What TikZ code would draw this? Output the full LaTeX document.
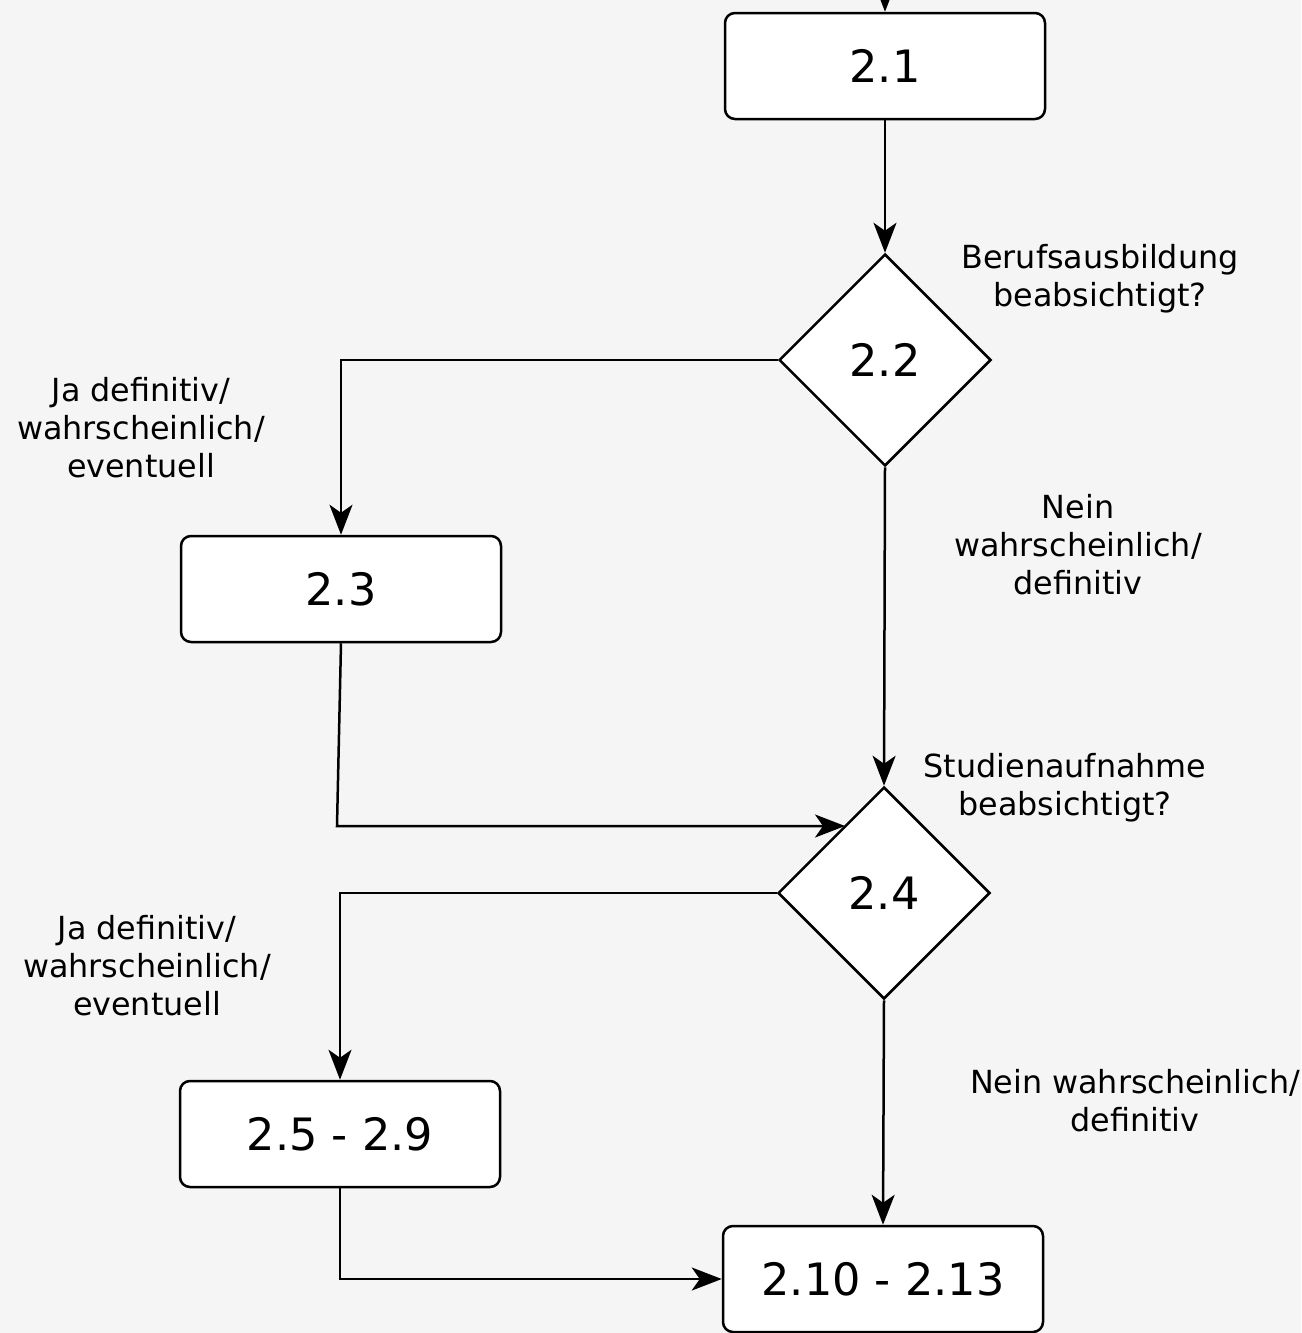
\documentclass[tikz,border=0pt]{standalone}
\usepackage{fontspec}
\setmainfont{DejaVu Sans}
\usetikzlibrary{shapes.geometric,arrows.meta}
\definecolor{bgcol}{HTML}{F5F5F5}
\tikzset{every picture/.style={line width=1.25pt}}
\tikzset{
  stepbox/.style={draw,fill=white,rounded corners=5pt,minimum width=160pt,minimum height=53pt,inner sep=0pt,font=\fontsize{22.3}{26}\selectfont},
  decision/.style={draw,fill=white,diamond,aspect=1,minimum width=106pt,minimum height=106pt,inner sep=0pt,font=\fontsize{22.3}{26}\selectfont},
  flowlabel/.style={align=center,font=\fontsize{15.9}{19}\selectfont},
  flow/.style={-{Stealth[length=15pt,width=11.5pt,inset=4pt]}}
}
\begin{document}
\begin{tikzpicture}[x=0.5pt,y=0.5pt,yscale=-1,xscale=1]
		%Background
		\fill[bgcol] (0,0) rectangle (1301,1333);
		\useasboundingbox (0,0) rectangle (1301,1333);
		
		%Shape: Rounded Rect
		\node[stepbox] (b21) at (885,66) {2.1};
		%Shape: Diamond
		\node[decision] (d22) at (885,360) {2.2};
		%Shape: Rounded Rect
		\node[stepbox] (b23) at (341,589) {2.3};
		%Shape: Diamond
		\node[decision] (d24) at (884,893) {2.4};
		%Shape: Rounded Rect
		\node[stepbox] (b25) at (340,1134) {2.5 - 2.9};
		%Shape: Rounded Rect
		\node[stepbox] (b210) at (883,1279) {2.10 - 2.13};
		
		\coordinate (top) at (885,-2);
		\coordinate (bend23) at (337,826);
		\coordinate (in24) at (845,826);
		
		%Straight Lines
		\draw[flow] (top) -- (b21.north);
		\draw[flow] (b21.south) -- (d22.north);
		\draw[flow] (d22.west) -| (b23.north);
		\draw[flow] (d22.south) -- (d24.north);
		\draw[flow] (b23.south) -- (bend23) -- (in24);
		\draw[flow] (d24.west) -| (b25.north);
		\draw[flow] (d24.south) -- (b210.north);
		\draw[flow] (b25.south) |- (b210.west);
		
		% Text Node
		\node[flowlabel] (q22) at (1100,279) {Berufsausbildung\\beabsichtigt?};
		% Text Node
		\node[flowlabel] (ja22) at (141,428) {Ja definitiv/\\wahrscheinlich/\\eventuell};
		% Text Node
		\node[flowlabel] (nein22) at (1078,545) {Nein\\wahrscheinlich/\\definitiv};
		% Text Node
		\node[flowlabel] (q24) at (1065,788) {Studienaufnahme\\beabsichtigt?};
		% Text Node
		\node[flowlabel] (ja24) at (147,966) {Ja definitiv/\\wahrscheinlich/\\eventuell};
		% Text Node
		\node[flowlabel] (nein24) at (1135,1101) {Nein wahrscheinlich/\\definitiv};
		
\end{tikzpicture}
\end{document}
